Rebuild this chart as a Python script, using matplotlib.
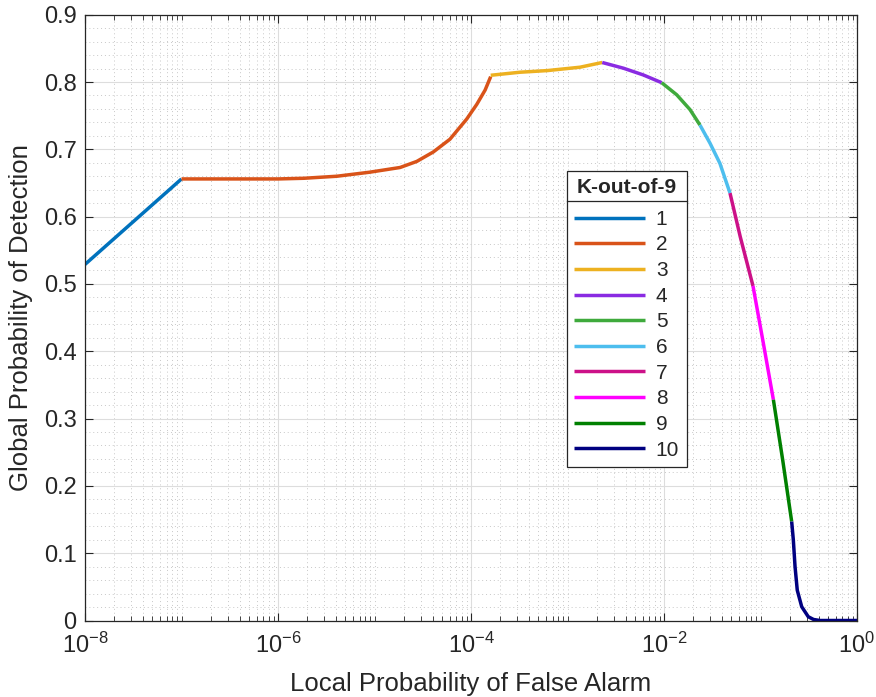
import matplotlib
matplotlib.use("Agg")
import matplotlib.pyplot as plt
import matplotlib.ticker as mticker
from matplotlib.lines import Line2D

# segment values (x = local Pfa, y = global Pd)
seg_x = [
    [1e-8, 1e-7],
    [1e-7, 1e-6, 1.86e-6, 4.07e-6, 8.9e-6, 1.84e-5, 2.74e-5, 4.06e-5, 6.05e-5,
     9.03e-5, 1.15e-4, 1.40e-4, 1.60e-4],
    [1.60e-4, 3.2e-4, 6.2e-4, 1.35e-3, 2.29e-3],
    [2.29e-3, 3.8e-3, 6.1e-3, 9.46e-3],
    [9.46e-3, 1.355e-2, 1.86e-2, 2.36e-2],
    [2.36e-2, 3.0e-2, 3.8e-2, 4.83e-2],
    [4.83e-2, 6.17e-2, 8.36e-2],
    [8.36e-2, 0.107, 0.136],
    [0.136, 0.170, 0.2104],
    [0.2104, 0.2188, 0.228, 0.2404, 0.2673, 0.3126, 0.355, 0.414, 1.0],
]
seg_y = [
    [0.529, 0.656],
    [0.656, 0.656, 0.657, 0.660, 0.666, 0.673, 0.682, 0.696, 0.715,
     0.745, 0.767, 0.788, 0.808],
    [0.810, 0.8145, 0.817, 0.822, 0.829],
    [0.829, 0.8205, 0.8105, 0.799],
    [0.799, 0.781, 0.759, 0.736],
    [0.736, 0.709, 0.679, 0.635],
    [0.635, 0.570, 0.497],
    [0.497, 0.412, 0.328],
    [0.328, 0.238, 0.147],
    [0.147, 0.120, 0.080, 0.045, 0.0205, 0.0056, 0.0015, 0.0, 0.0],
]
labels = ["1", "2", "3", "4", "5", "6", "7", "8", "9", "10"]
colors = ["#0072BD", "#D95319", "#EDB120", "#8A2BE2", "#3FAA3C",
          "#4DBEEE", "#CC1188", "#FF00FF", "#008000", "#000080"]

plt.rcParams["font.family"] = ["Liberation Sans", "DejaVu Sans"]
plt.rcParams["mathtext.fontset"] = "custom"
plt.rcParams["mathtext.rm"] = "Liberation Sans"

W, H = 876, 697
fig = plt.figure(figsize=(W / 100, H / 100), dpi=100)
ax = fig.add_axes([85 / W, 1 - 620.5 / H, (857 - 85) / W, (620.5 - 14.7) / H])

for xs, ys, lab, c in zip(seg_x, seg_y, labels, colors):
    ax.plot(xs, ys, color=c, lw=2.5, label=lab, solid_capstyle="butt",
            solid_joinstyle="round")

ax.set_xscale("log")
ax.set_xlim(1e-8, 1)
ax.set_ylim(0, 0.9)
ax.xaxis.set_major_locator(mticker.FixedLocator([1e-8, 1e-6, 1e-4, 1e-2, 1]))
ax.xaxis.set_major_formatter(mticker.LogFormatterSciNotation())
ax.xaxis.set_minor_locator(mticker.LogLocator(base=10, subs=range(1, 10), numticks=100))
ax.xaxis.set_minor_formatter(mticker.NullFormatter())
ax.yaxis.set_major_locator(mticker.MultipleLocator(0.1))
ax.yaxis.set_minor_locator(mticker.MultipleLocator(0.02))
ax.yaxis.set_major_formatter(mticker.FuncFormatter(lambda v, p: "0" if v == 0 else f"{v:.1f}"))

ax.grid(True, which="major", color="#DDDDDD", lw=0.8)
ax.grid(True, which="minor", color="#C8C8C8", lw=0.7, ls=(0, (1, 3)))
ax.set_axisbelow(True)

for s in ax.spines.values():
    s.set_color("#262626")
    s.set_linewidth(0.9)
ax.tick_params(which="both", direction="in", top=True, right=True, colors="#262626",
               labelsize=17)
ax.tick_params(axis="x", which="both", pad=9)
ax.tick_params(axis="y", which="both", pad=6)
ax.tick_params(which="major", length=6)
ax.tick_params(which="minor", length=3.5)
ax.tick_params(axis="y", which="minor", length=0)

ax.set_xlabel("Local Probability of False Alarm", fontsize=18.5, color="#262626", labelpad=10)
ax.set_ylabel("Global Probability of Detection", fontsize=18.5, color="#262626", labelpad=8)

leg = ax.legend(loc="upper left", bbox_to_anchor=(566.7 / W, 1 - 171 / H),
                bbox_transform=fig.transFigure, title="K-out-of-9",
                fontsize=15, title_fontproperties={"weight": "bold", "size": 15},
                frameon=True, fancybox=False, framealpha=1, edgecolor="#262626",
                borderaxespad=0, handlelength=3.4, handletextpad=0.53,
                labelspacing=0.32, borderpad=0.35)
leg.get_frame().set_linewidth(0.9)
leg._legend_box.sep = 9
for t in leg.get_texts():
    t.set_color("#262626")
leg.get_title().set_color("#262626")

# separator line below the legend title
fig.canvas.draw()
r = fig.canvas.get_renderer()
fb = leg.get_frame().get_window_extent(r)
tb = leg.get_title().get_window_extent(r)
sep_y = (tb.y0 - 4) / H
fig.add_artist(Line2D([fb.x0 / W, fb.x1 / W], [sep_y, sep_y], transform=fig.transFigure,
                      color="#262626", lw=0.9))

fig.savefig("out.png", dpi=100)
